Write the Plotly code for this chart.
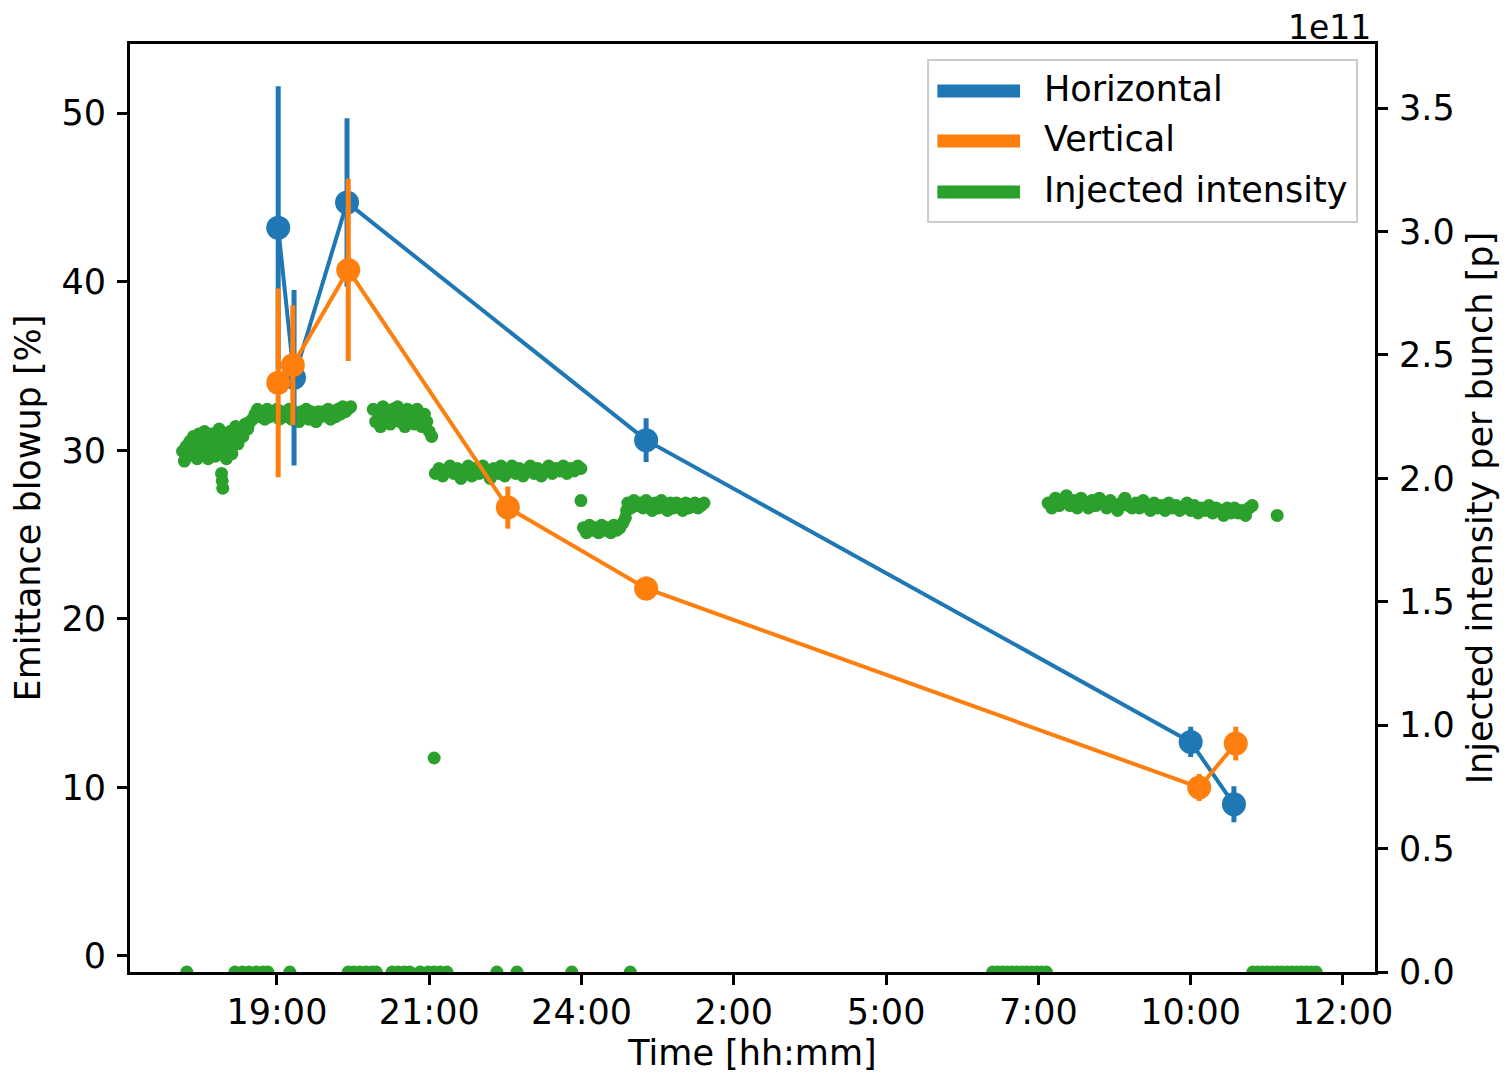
import plotly.graph_objects as go

# ---------------- data ----------------
# time axis in hours (19:00 = 19, midnight = 24, next-day hours continue > 24)
tick_hours = [19, 21.5, 24, 26.5, 29, 31.5, 34, 36.5]
tick_labels = ["19:00", "21:00", "24:00", "2:00", "5:00", "7:00", "10:00", "12:00"]

# emittance blowup [%] - horizontal plane
h_time = [19.02, 19.28, 20.15, 25.06, 34.00, 34.71]
h_blowup = [43.2, 34.3, 44.7, 30.6, 12.7, 9.0]
h_err = [8.4, 5.2, 5.0, 1.3, 0.9, 1.07]

# emittance blowup [%] - vertical plane
v_time = [19.02, 19.26, 20.17, 22.79, 25.06, 34.14, 34.74]
v_blowup = [34.0, 35.05, 40.7, 26.6, 21.8, 10.0, 12.6]
v_err = [5.6, 3.55, 5.4, 1.25, 0.7, 0.8, 1.0]

# injected intensity per bunch [1e11 p]
inj_time = [
    17.45, 17.48, 17.51, 17.54, 17.57, 17.60, 17.63, 17.66, 17.69, 17.72,
    17.75, 17.78, 17.81, 17.84, 17.87, 17.90, 17.93, 17.96, 17.99, 18.02,
    18.05, 18.08, 18.09, 18.10, 18.11, 18.14, 18.17, 18.20, 18.23, 18.26,
    18.29, 18.32, 18.36, 18.40, 18.44, 18.48, 18.52, 18.56, 18.60,
    18.64, 18.68, 18.72, 18.76, 18.80, 18.84, 18.88, 18.92, 18.96, 19.00,
    19.04, 19.08, 19.12, 19.16, 19.20, 19.24, 19.28, 19.32, 19.36, 19.40,
    19.44, 19.48, 19.52, 19.56, 19.60, 19.64, 19.68, 19.72, 19.76, 19.80,
    19.84, 19.88, 19.92, 19.96, 20.00, 20.04, 20.08, 20.12, 20.16, 20.21,
    20.58, 20.62, 20.66, 20.70, 20.74, 20.78, 20.82, 20.86, 20.90, 20.94,
    20.98, 21.02, 21.06, 21.10, 21.14, 21.18, 21.22, 21.26, 21.30, 21.34,
    21.38, 21.42, 21.46, 21.50, 21.54, 21.58,
    21.60, 21.66, 21.72, 21.78, 21.84, 21.90, 21.96, 22.02, 22.08, 22.14,
    22.20, 22.26, 22.32, 22.38, 22.44, 22.50, 22.56, 22.62, 22.68, 22.74,
    22.80, 22.86, 22.92, 22.98, 23.04, 23.10, 23.16, 23.22, 23.28, 23.34,
    23.40, 23.46, 23.52, 23.58, 23.64, 23.70, 23.76, 23.82, 23.88, 23.94,
    23.99, 23.99,
    24.03, 24.08, 24.13, 24.18, 24.23, 24.28, 24.33, 24.38, 24.43, 24.48,
    24.53, 24.58, 24.63, 24.68, 24.72, 24.74,
    24.76, 24.81, 24.86, 24.91, 24.96, 25.01, 25.06, 25.11, 25.16, 25.21,
    25.26, 25.31, 25.36, 25.41, 25.46, 25.51, 25.56, 25.61, 25.66, 25.71,
    25.76, 25.81, 25.86, 25.91, 25.96, 26.01,
    31.66, 31.72, 31.78, 31.84, 31.90, 31.96, 32.02, 32.08, 32.14, 32.20,
    32.26, 32.32, 32.38, 32.44, 32.50, 32.56, 32.62, 32.68, 32.74, 32.80,
    32.86, 32.92, 32.98, 33.04, 33.10, 33.16, 33.22, 33.28, 33.34, 33.40,
    33.46, 33.52, 33.58, 33.64, 33.70, 33.76, 33.82, 33.88, 33.94, 34.00,
    34.06, 34.12, 34.18, 34.24, 34.30, 34.36, 34.42, 34.48, 34.54, 34.60,
    34.66, 34.72, 34.78, 34.84, 34.90, 34.96, 35.01, 35.42,
]
inj_value = [
    2.11, 2.07, 2.13, 2.09, 2.15, 2.10, 2.17, 2.12, 2.08, 2.18,
    2.14, 2.10, 2.19, 2.15, 2.08, 2.12, 2.18, 2.14, 2.09, 2.16,
    2.20, 2.12, 2.02, 1.99, 1.96, 2.17, 2.08, 2.13, 2.19, 2.10,
    2.16, 2.21, 2.14, 2.19, 2.17, 2.22, 2.20, 2.23, 2.24,
    2.26, 2.28, 2.25, 2.27, 2.24, 2.28, 2.25, 2.27, 2.26, 2.28,
    2.24, 2.27, 2.25, 2.26, 2.28, 2.24, 2.27, 2.26, 2.23, 2.27,
    2.25, 2.28, 2.24, 2.27, 2.26, 2.23, 2.27, 2.25, 2.27, 2.26,
    2.28, 2.24, 2.27, 2.25, 2.28, 2.26, 2.29, 2.27, 2.28, 2.29,
    2.28, 2.23, 2.27, 2.21, 2.29, 2.24, 2.27, 2.22, 2.28, 2.25,
    2.29, 2.23, 2.27, 2.21, 2.28, 2.24, 2.27, 2.22, 2.28, 2.25,
    2.21, 2.26, 2.23, 2.19, 2.17, 0.867,
    2.02, 2.04, 2.01, 2.03, 2.05, 2.02, 2.04, 2.00, 2.03, 2.05,
    2.01, 2.04, 2.02, 2.05, 2.03, 2.00, 2.04, 2.02, 2.05, 2.01,
    2.03, 2.05, 2.02, 2.04, 2.01, 2.03, 2.05, 2.02, 2.04, 2.01,
    2.03, 2.05, 2.02, 2.04, 2.03, 2.05, 2.02, 2.04, 2.03, 2.05,
    2.04, 1.91,
    1.80, 1.78, 1.81, 1.79, 1.80, 1.78, 1.81, 1.79, 1.80, 1.78,
    1.81, 1.79, 1.80, 1.82, 1.84, 1.87,
    1.90, 1.88, 1.91, 1.89, 1.90, 1.88, 1.91, 1.89, 1.87, 1.90,
    1.88, 1.91, 1.89, 1.87, 1.90, 1.88, 1.90, 1.89, 1.87, 1.90,
    1.88, 1.89, 1.90, 1.88, 1.89, 1.90,
    1.90, 1.88, 1.92, 1.89, 1.91, 1.93, 1.89, 1.91, 1.88, 1.92,
    1.90, 1.88, 1.91, 1.89, 1.92, 1.90, 1.88, 1.91, 1.89, 1.87,
    1.90, 1.92, 1.89, 1.88, 1.90, 1.88, 1.91, 1.89, 1.87, 1.90,
    1.88, 1.89, 1.87, 1.90, 1.88, 1.89, 1.87, 1.88, 1.90, 1.87,
    1.89, 1.86, 1.88, 1.87, 1.89, 1.86, 1.88, 1.87, 1.85, 1.88,
    1.86, 1.88, 1.86, 1.87, 1.85, 1.88, 1.89, 1.85,
]
# injections with zero intensity
zero_time = [
    17.52, 18.31, 18.43, 18.54, 18.66, 18.77, 18.85, 19.21,
    20.17, 20.26, 20.36, 20.46, 20.56, 20.63, 20.89, 20.99, 21.09, 21.18,
    21.35, 21.48, 21.58, 21.68, 21.79, 22.61, 22.94, 23.84, 24.80,
    30.75, 30.83, 30.91, 30.99, 31.07, 31.15, 31.23, 31.31, 31.39, 31.47,
    31.55, 31.63,
    35.02, 35.10, 35.18, 35.26, 35.34, 35.42, 35.50, 35.58, 35.66, 35.74,
    35.82, 35.90, 35.98, 36.06,
]
zero_value = [0.0] * len(zero_time)

legend_names = ["Horizontal", "Vertical", "Injected intensity"]

BLUE = "#1f77b4"
ORANGE = "#ff7f0e"
GREEN = "#2ca02c"
legend_colors = [BLUE, ORANGE, GREEN]
FONT = "DejaVu Sans"
FS = 35

fig = go.Figure()

# intensity (drawn first, underneath) on right axis
fig.add_trace(go.Scatter(
    x=inj_time + zero_time, y=inj_value + zero_value, mode="markers",
    marker=dict(color=GREEN, size=13, line=dict(width=0)),
    yaxis="y", showlegend=False, cliponaxis=True,
))

# emittance on left axis
fig.add_trace(go.Scatter(
    x=h_time, y=h_blowup, mode="lines+markers", yaxis="y2",
    line=dict(color=BLUE, width=4),
    marker=dict(color=BLUE, size=24),
    error_y=dict(type="data", array=h_err, color=BLUE, thickness=5, width=0),
    showlegend=False,
))
fig.add_trace(go.Scatter(
    x=v_time, y=v_blowup, mode="lines+markers", yaxis="y2",
    line=dict(color=ORANGE, width=4),
    marker=dict(color=ORANGE, size=24),
    error_y=dict(type="data", array=v_err, color=ORANGE, thickness=5, width=0),
    showlegend=False,
))

axis_common = dict(
    showline=True, linecolor="black", linewidth=3,
    ticks="outside", ticklen=10, tickwidth=2.5, tickcolor="black",
    showgrid=False, zeroline=False,
    tickfont=dict(family=FONT, size=FS, color="black"),
    automargin=False,
)

# legend drawn as a framed box (paper coordinates)
shapes = [dict(
    type="rect", xref="paper", yref="paper",
    x0=0.641, x1=0.9855, y0=0.8082, y1=0.9828,
    line=dict(color="#cccccc", width=2), fillcolor="white", layer="above",
)]
annotations = []
row_y = [0.9494, 0.8955, 0.8405]
for name, col, yy in zip(legend_names, legend_colors, row_y):
    shapes.append(dict(
        type="line", xref="paper", yref="paper",
        x0=0.6485, x1=0.7149, y0=yy, y1=yy,
        line=dict(color=col, width=13), layer="above",
    ))
    annotations.append(dict(
        text=name, xref="paper", yref="paper", x=0.7325, y=yy + 0.002,
        xanchor="left", yanchor="middle", showarrow=False,
        font=dict(family=FONT, size=FS, color="black"),
    ))
annotations.append(dict(
    text="1e11", xref="paper", yref="paper", x=0.9976, y=1.0,
    xanchor="right", yanchor="bottom", showarrow=False, borderpad=0,
    yshift=-4,
    font=dict(family=FONT, size=33, color="black"),
))

fig.update_layout(
    width=1494, height=1078,
    margin=dict(l=122, r=127, t=36, b=114),
    plot_bgcolor="white", paper_bgcolor="white",
    font=dict(family=FONT, size=FS, color="black"),
    showlegend=False,
    xaxis=dict(
        range=[16.587, 37.026], tickmode="array",
        tickvals=tick_hours, ticktext=tick_labels, mirror=True,
        ticklabelstandoff=-3,
        title=dict(text="Time [hh:mm]", standoff=10,
                   font=dict(family=FONT, size=FS)),
        **axis_common,
    ),
    yaxis=dict(
        side="right", range=[0, 3.76], tickmode="array",
        tickvals=[0, 0.5, 1.0, 1.5, 2.0, 2.5, 3.0, 3.5], tickformat=".1f",
        ticklabelstandoff=4,
        title=dict(text="Injected intensity per bunch [p]", standoff=14,
                   font=dict(family=FONT, size=FS)),
        **axis_common,
    ),
    yaxis2=dict(
        overlaying="y", side="left", anchor="x", range=[-0.95, 54.1],
        tickmode="array", tickvals=[0, 10, 20, 30, 40, 50],
        ticklabelstandoff=4,
        title=dict(text="Emittance blowup [%]", standoff=14,
                   font=dict(family=FONT, size=FS)),
        **axis_common,
    ),
    shapes=shapes,
    annotations=annotations,
)

fig.write_html("out.html")
